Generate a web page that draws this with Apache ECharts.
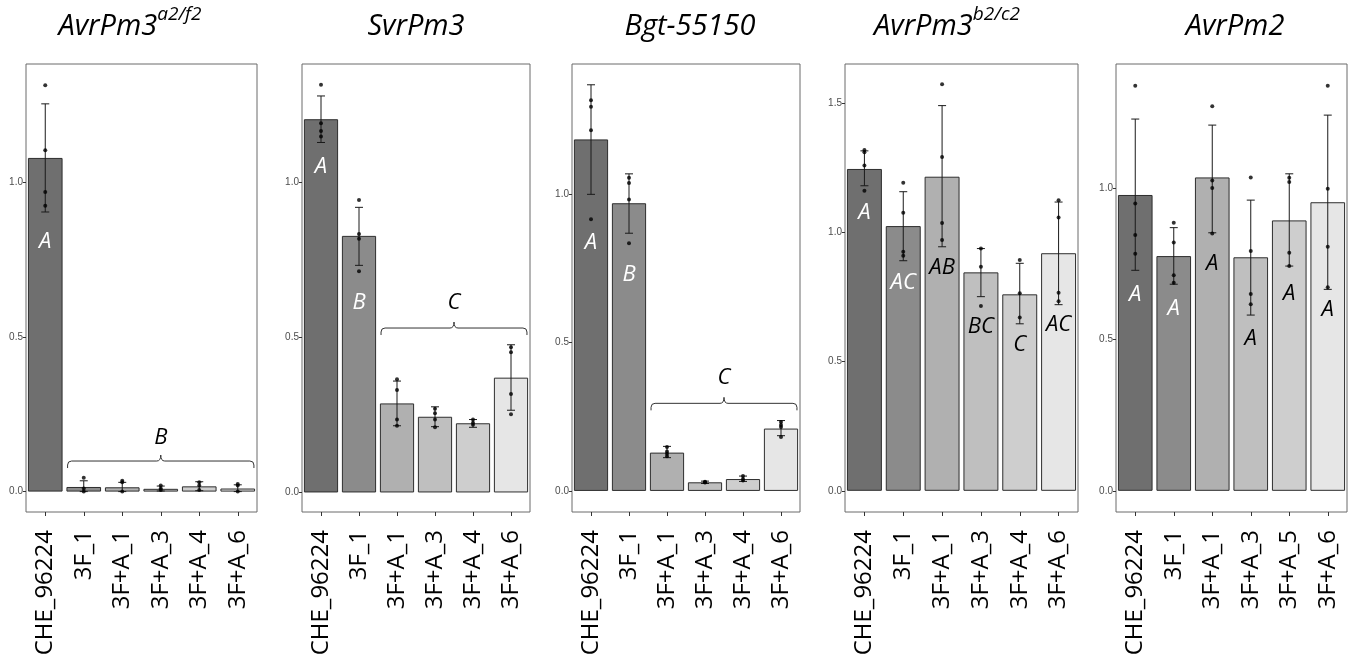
<!DOCTYPE html>
<html><head><meta charset="utf-8">
<script src="https://cdn.jsdelivr.net/npm/echarts@6/dist/echarts.min.js"></script>
<style>html,body{margin:0;padding:0;background:#fff}#c{width:1349px;height:658px}</style>
</head><body><div id="c"></div>
<script>
// ---------- DATA ----------
const cats1 = ['CHE_96224','3F_1','3F+A_1','3F+A_3','3F+A_4','3F+A_6'];
const cats2 = ['CHE_96224','3F_1','3F+A_1','3F+A_3','3F+A_4','3F+A_6'];
const cats3 = ['CHE_96224','3F_1','3F+A_1','3F+A_3','3F+A_4','3F+A_6'];
const cats4 = ['CHE_96224','3F_1','3F+A_1','3F+A_3','3F+A_4','3F+A_6'];
const cats5 = ['CHE_96224','3F_1','3F+A_1','3F+A_3','3F+A_5','3F+A_6'];

// Panel 1: AvrPm3 a2/f2
const mean1 = [1.08, 0.015, 0.014, 0.009, 0.017, 0.010];
const lo1   = [0.905, 0.000, 0.000, 0.002, 0.003, 0.000];
const hi1   = [1.255, 0.035, 0.030, 0.018, 0.032, 0.022];
const pts1  = [[1.315,1.105,0.970,0.925],[0.045,0.010,0.000],[0.035,0.030,0.000],[0.020,0.010,0.005],[0.030,0.020,0.005],[0.025,0.020,0.000]];
const letters1 = ['A','','','','',''];
const letterY1 = [0.81,0,0,0,0,0];
const bracket1 = [1, 5, 0.099, 0.174]; const bracketLabel1 = 'B';

// Panel 2: SvrPm3
const mean2 = [1.203, 0.827, 0.287, 0.244, 0.223, 0.370];
const lo2   = [1.128, 0.732, 0.215, 0.212, 0.210, 0.265];
const hi2   = [1.278, 0.919, 0.359, 0.276, 0.235, 0.476];
const pts2  = [[1.314,1.190,1.165,1.147],[0.943,0.833,0.818,0.713],[0.365,0.330,0.235,0.215],[0.270,0.255,0.235,0.210],[0.235,0.225,0.218],[0.468,0.452,0.317,0.252]];
const letters2 = ['A','B','','','',''];
const letterY2 = [1.05,0.61,0,0,0,0];
const bracket2 = [2, 5, 0.53, 0.61]; const bracketLabel2 = 'C';

// Panel 3: Bgt-55150
const mean3 = [1.184, 0.969, 0.129, 0.029, 0.040, 0.210];
const lo3   = [0.999, 0.868, 0.112, 0.025, 0.032, 0.186];
const hi3   = [1.368, 1.068, 0.150, 0.033, 0.050, 0.237];
const pts3  = [[1.316,1.294,1.215,0.915],[1.055,1.037,0.982,0.834],[0.148,0.133,0.125,0.117],[0.031,0.029,0.028],[0.050,0.040,0.035],[0.232,0.222,0.215,0.182]];
const letters3 = ['A','B','','','',''];
const letterY3 = [0.835,0.727,0,0,0,0];
const bracket3 = [2, 5, 0.295, 0.38]; const bracketLabel3 = 'C';

// Panel 4: AvrPm3 b2/c2
const mean4 = [1.245, 1.024, 1.215, 0.845, 0.760, 0.919];
const lo4   = [1.180, 0.890, 0.944, 0.751, 0.646, 0.720];
const hi4   = [1.315, 1.157, 1.490, 0.937, 0.880, 1.117];
const pts4  = [[1.318,1.310,1.258,1.161],[1.192,1.076,0.925,0.909],[1.573,1.291,1.036,0.970],[0.937,0.867,0.715],[0.893,0.764,0.670],[1.124,1.057,0.766,0.733]];
const letters4 = ['A','AC','AB','BC','C','AC'];
const letterY4 = [1.075,0.804,0.862,0.635,0.564,0.641];

// Panel 5: AvrPm2
const mean5 = [0.978, 0.776, 1.036, 0.772, 0.894, 0.954];
const lo5   = [0.729, 0.683, 0.853, 0.581, 0.743, 0.666];
const hi5   = [1.229, 0.870, 1.209, 0.961, 1.048, 1.242];
const pts5  = [[1.339,0.950,0.846,0.784],[0.886,0.821,0.713,0.688],[1.271,1.026,1.001,0.851],[1.036,0.793,0.651,0.617],[1.035,1.021,0.787,0.743],[1.339,0.999,0.807,0.673]];
const letters5 = ['A','A','A','A','A','A'];
const letterY5 = [0.647,0.601,0.752,0.502,0.653,0.600];

const yTicks1 = [0, 0.5, 1.0];
const yTicks4 = [0, 0.5, 1.0, 1.5];

// ---------- LAYOUT / STYLE ----------
const FONT = '"Open Sans", "Noto Sans", sans-serif';
const barColors = ['#6f6f6f','#8b8b8b','#b0b0b0','#bfbfbf','#cecece','#e6e6e6'];
const panels = [
  {cats:cats1, mean:mean1, lo:lo1, hi:hi1, pts:pts1, letters:letters1, letterY:letterY1, bracket:bracket1, bracketLabel:bracketLabel1, ticks:yTicks1, left:26, width:231, min:-0.066, max:1.384},
  {cats:cats2, mean:mean2, lo:lo2, hi:hi2, pts:pts2, letters:letters2, letterY:letterY2, bracket:bracket2, bracketLabel:bracketLabel2, ticks:yTicks1, left:302, width:228, min:-0.063, max:1.381},
  {cats:cats3, mean:mean3, lo:lo3, hi:hi3, pts:pts3, letters:letters3, letterY:letterY3, bracket:bracket3, bracketLabel:bracketLabel3, ticks:yTicks1, left:572, width:228, min:-0.071, max:1.438},
  {cats:cats4, mean:mean4, lo:lo4, hi:hi4, pts:pts4, letters:letters4, letterY:letterY4, bracket:null, ticks:yTicks4, left:845, width:233, min:-0.082, max:1.651},
  {cats:cats5, mean:mean5, lo:lo5, hi:hi5, pts:pts5, letters:letters5, letterY:letterY5, bracket:null, ticks:yTicks1, left:1116, width:231, min:-0.070, max:1.411}
];

const grids = [], xAxes = [], yAxes = [], series = [];
panels.forEach((p, i) => {
  grids.push({left:p.left, top:64, width:p.width, height:448, show:true, borderColor:'#6b6b6b', borderWidth:1, backgroundColor:'transparent', outerBoundsMode:'none'});
  xAxes.push({
    gridIndex:i, type:'category', data:p.cats,
    axisLine:{show:false, onZero:false},
    axisTick:{show:true, alignWithLabel:true, length:4, lineStyle:{color:'#333'}},
    axisLabel:{interval:0, rotate:90, fontSize:24, color:'#000', margin:18, fontFamily:FONT}
  });
  yAxes.push({
    gridIndex:i, type:'value', min:p.min, max:p.max,
    axisLine:{show:false}, splitLine:{show:false},
    axisTick:{show:true, length:3, lineStyle:{color:'#333'}, customValues:p.ticks},
    axisLabel:{customValues:p.ticks, formatter:v => v.toFixed(1), fontSize:10, color:'#4d4d4d', margin:3, fontFamily:'Liberation Sans, Arial, sans-serif'}
  });
  // bars
  series.push({
    type:'bar', xAxisIndex:i, yAxisIndex:i, barWidth:'90%', z:2,
    data:p.mean.map((v, k) => ({value:v, itemStyle:{color:barColors[k], borderColor:'#2e2e2e', borderWidth:1}})),
    silent:true, animation:false
  });
  // error bars
  series.push({
    type:'custom', xAxisIndex:i, yAxisIndex:i, z:3, animation:false, silent:true,
    encode:{x:0, y:[1,2]},
    data:p.lo.map((v, k) => [k, v, p.hi[k]]),
    renderItem:(params, api) => {
      const a = api.coord([api.value(0), api.value(1)]);
      const b = api.coord([api.value(0), api.value(2)]);
      const c = 4;
      const st = {stroke:'#1a1a1a', lineWidth:1};
      return {type:'group', children:[
        {type:'line', shape:{x1:a[0], y1:a[1], x2:b[0], y2:b[1]}, style:st},
        {type:'line', shape:{x1:a[0]-c, y1:a[1], x2:a[0]+c, y2:a[1]}, style:st},
        {type:'line', shape:{x1:b[0]-c, y1:b[1], x2:b[0]+c, y2:b[1]}, style:st}
      ]};
    }
  });
  // points
  const pdata = [];
  p.pts.forEach((arr, k) => arr.forEach(v => pdata.push([k, v])));
  series.push({
    type:'scatter', xAxisIndex:i, yAxisIndex:i, z:4, symbolSize:4, animation:false, silent:true,
    itemStyle:{color:'#000'}, data:pdata
  });
  // letters
  const ldata = [];
  p.letters.forEach((t, k) => { if (t) ldata.push([k, p.letterY[k], k]); });
  series.push({
    type:'custom', xAxisIndex:i, yAxisIndex:i, z:5, animation:false, silent:true,
    encode:{x:0, y:1},
    data:ldata,
    renderItem:(params, api) => {
      const k = api.value(2);
      const pt = api.coord([api.value(0), api.value(1)]);
      return {type:'text', style:{text:p.letters[k], x:pt[0], y:pt[1], align:'center', verticalAlign:'middle',
        fill: k < 2 ? '#ffffff' : '#000000', font:'italic 22px ' + FONT}};
    }
  });
  // bracket
  if (p.bracket) {
    series.push({
      type:'custom', xAxisIndex:i, yAxisIndex:i, z:5, animation:false, silent:true,
      encode:{x:[0,1], y:[2,3]},
      data:[p.bracket],
      renderItem:(params, api) => {
        const a = api.coord([api.value(0), api.value(2)]);
        const b = api.coord([api.value(1), api.value(2)]);
        const lab = api.coord([api.value(0), api.value(3)]);
        const bw = api.size([1, 0])[0];
        const x1 = a[0] - bw * 0.42, x2 = b[0] + bw * 0.42, y = a[1];
        const xm = (x1 + x2) / 2, r = 4;
        const d = `M${x1},${y+7} L${x1},${y+r} Q${x1},${y} ${x1+r},${y} L${xm-4},${y} Q${xm},${y} ${xm},${y-6} Q${xm},${y} ${xm+4},${y} L${x2-r},${y} Q${x2},${y} ${x2},${y+r} L${x2},${y+7}`;
        return {type:'group', children:[
          {type:'path', shape:{pathData:d}, style:{fill:null, stroke:'#333', lineWidth:1}},
          {type:'text', style:{text:p.bracketLabel, x:xm, y:lab[1], align:'center', verticalAlign:'middle', fill:'#000', font:'italic 22px ' + FONT}}
        ]};
      }
    });
  }
});

const titleRich = {
  m:{fontSize:29, fontStyle:'italic', fontFamily:FONT, fill:'#000', color:'#000', lineHeight:36, verticalAlign:'bottom'},
  s:{fontSize:19, fontStyle:'italic', fontFamily:FONT, fill:'#000', color:'#000', lineHeight:36, verticalAlign:'top', padding:[0,0,0,0]}
};
const titles = [
  {x:130, text:'{m|AvrPm3}{s|a2/f2}'},
  {x:416, text:'{m|SvrPm3}'},
  {x:690, text:'{m|Bgt-55150}'},
  {x:947, text:'{m|AvrPm3}{s|b2/c2}'},
  {x:1235, text:'{m|AvrPm2}'}
];
const graphic = titles.map(t => ({type:'text', x:t.x, y:23, style:{text:t.text, rich:titleRich, align:'center', verticalAlign:'middle', fill:'#000'}}));

const chart = echarts.init(document.getElementById('c'), null, {renderer:'canvas'});
chart.setOption({animation:false, grid:grids, xAxis:xAxes, yAxis:yAxes, series:series, graphic:graphic});
</script>
</body></html>
